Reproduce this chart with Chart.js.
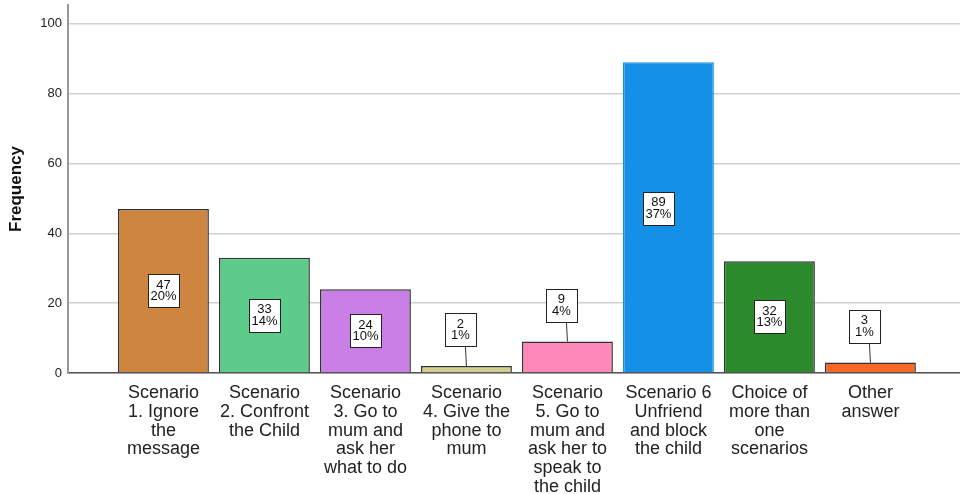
<!DOCTYPE html>
<html>
<head>
  <meta charset="UTF-8">
  <title>Frequency by scenario</title>
  <script src="https://cdn.jsdelivr.net/npm/chart.js"></script>
  <style>
    body { margin: 0; background: #fff; }
    #wrap { width: 960px; height: 494px; position: relative; }
  </style>
</head>
<body>
  <div id="wrap"><canvas id="freqChart"></canvas></div>

  <script>
    const categories = [
      ["Scenario", "1. Ignore", "the", "message"],
      ["Scenario", "2. Confront", "the Child"],
      ["Scenario", "3. Go to", "mum and", "ask her", "what to do"],
      ["Scenario", "4. Give the", "phone to", "mum"],
      ["Scenario", "5. Go to", "mum and", "ask her to", "speak to", "the child"],
      ["Scenario 6", "Unfriend", "and block", "the child"],
      ["Choice of", "more than", "one", "scenarios"],
      ["Other", "answer"]
    ];
    const frequency = [47, 33, 24, 2, 9, 89, 32, 3];
    const yTicks = [0, 20, 40, 60, 80, 100];

    const fills = ['#CD853F', '#5DCB8A', '#C97FE6', '#D4CE8E', '#FF88B8', '#1491E6', '#2B8A2B', '#F4692A'];
    const edges = ['#333', '#333', '#333', '#333', '#333', '#1491E6', '#333', '#333'];
    // the tall bar's box sits a little up and left of centre
    const boxNudge = { 5: [-10, -9] };

    const total = frequency.reduce((a, b) => a + b, 0);

    // white count/percent boxes, placed above short bars with a leader line
    const boxLabels = {
      id: 'boxLabels',
      afterDatasetsDraw(chart) {
        const ctx = chart.ctx;
        const meta = chart.getDatasetMeta(0);
        const bw = 31, bh = 33;
        ctx.save();
        ctx.font = '13px Arial, "Liberation Sans", sans-serif';
        ctx.textAlign = 'center';
        ctx.textBaseline = 'middle';
        meta.data.forEach((bar, i) => {
          const v = frequency[i];
          const pct = Math.round(v / total * 100) + '%';
          const h = bar.base - bar.y;
          let cx = bar.x, cy;
          if (h > bh + 8) {
            cy = bar.y + h / 2;
            if (boxNudge[i]) {
              cx += boxNudge[i][0];
              cy += boxNudge[i][1];
            }
          } else {
            cx = bar.x - 6;
            cy = bar.y - 20 - bh / 2;
            ctx.strokeStyle = '#333';
            ctx.lineWidth = 1;
            ctx.beginPath();
            ctx.moveTo(bar.x - 1, cy + bh / 2);
            ctx.lineTo(bar.x, bar.y);
            ctx.stroke();
          }
          const left = Math.round(cx - bw / 2) + 0.5;
          const top = Math.round(cy - bh / 2) + 0.5;
          ctx.fillStyle = '#fff';
          ctx.fillRect(left, top, bw, bh);
          ctx.strokeStyle = '#222';
          ctx.lineWidth = 1;
          ctx.strokeRect(left, top, bw, bh);
          ctx.fillStyle = '#111';
          ctx.fillText(String(v), cx, cy - 5.5);
          ctx.fillText(pct, cx, cy + 6);
        });
        ctx.restore();
      }
    };

    const ctx = document.getElementById('freqChart').getContext('2d');
    new Chart(ctx, {
      type: 'bar',
      data: {
        datasets: [{
          label: 'Frequency',
          data: frequency.map((v, i) => ({ x: i + 1, y: v })),
          backgroundColor: fills,
          borderColor: edges,
          borderWidth: 1.5,
          borderSkipped: 'bottom',
          barPercentage: 0.9,
          categoryPercentage: 1.0
        }]
      },
      options: {
        responsive: true,
        maintainAspectRatio: false,
        animation: false,
        layout: { padding: { top: 5, right: 0, left: 0, bottom: 0 } },
        plugins: {
          legend: { display: false },
          tooltip: { enabled: false }
        },
        scales: {
          x: {
            type: 'linear',
            offset: false,
            min: 0.055,
            max: 8.887,
            afterBuildTicks: s => { s.ticks = categories.map((_, i) => ({ value: i + 1 })); },
            afterFit: s => { s.height = 121; },
            grid: { display: false, offset: false },
            border: { display: true, color: '#555', width: 1.5 },
            ticks: {
              autoSkip: false,
              maxRotation: 0,
              padding: 3,
              color: '#222',
              font: { family: 'Arial, "Liberation Sans", sans-serif', size: 18, lineHeight: 1.04 },
              callback: v => categories[v - 1] || ''
            }
          },
          y: {
            min: 0,
            max: 105.4,
            afterBuildTicks: s => { s.ticks = yTicks.map(v => ({ value: v })); },
            afterFit: s => { s.width = 68; s.paddingTop = 0; s.paddingBottom = 0; },
            grid: { color: '#cfcfcf', lineWidth: 1.5, drawTicks: false },
            border: { display: true, color: '#999', width: 2 },
            ticks: {
              padding: 6,
              color: '#222',
              font: { family: 'Arial, "Liberation Sans", sans-serif', size: 13, lineHeight: 0.1 }
            },
            title: {
              display: true,
              text: 'Frequency',
              color: '#111',
              padding: { top: 6, bottom: 0 },
              font: { family: 'Arial, "Liberation Sans", sans-serif', size: 17, weight: 'bold' }
            }
          }
        }
      },
      plugins: [boxLabels]
    });
  </script>
</body>
</html>
